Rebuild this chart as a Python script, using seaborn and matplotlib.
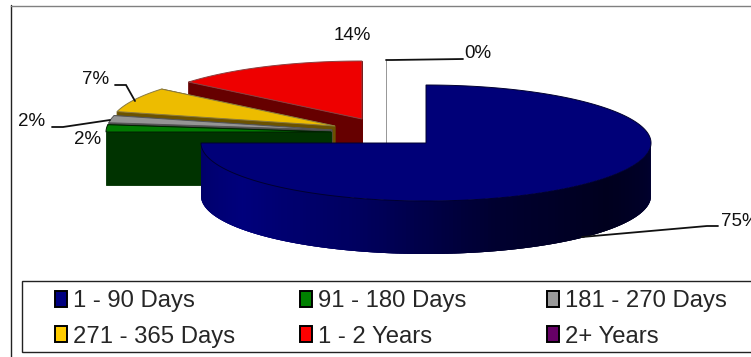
import numpy as np
import matplotlib
matplotlib.use("Agg")
import matplotlib.pyplot as plt
from matplotlib.patches import Polygon, Patch, Rectangle
import seaborn as sns

categories = ["1 - 90 Days", "91 - 180 Days", "181 - 270 Days",
              "271 - 365 Days", "1 - 2 Years", "2+ Years"]
shares = [75, 2, 2, 7, 14, 0]
share_labels = ["75%", "2%", "2%", "7%", "14%", "0%"]
legend_colors = ["#000080", "#008000", "#999999", "#FFCC00", "#FF0000", "#660066"]
top_colors = ["#000078", "#007A00", "#959595", "#EDBC00", "#EE0000", "#999999"]
side_colors = ["#000060", "#003300", "#4A4A4A", "#6B5200", "#660000", "#999999"]
edge_colors = ["#000030", "#002000", "#555555", "#8A7A40", "#8A4040", "#999999"]

sns.set_theme(style="white")
plt.rcParams["font.family"] = ["Liberation Sans", "DejaVu Sans"]

fig = plt.figure(figsize=(7.51, 3.57), dpi=100)
ax = fig.add_axes([0, 0, 1, 1])
ax.set_xlim(0, 751)
ax.set_ylim(357, 0)
ax.axis("off")

# Tilted pie geometry, in pixels
RX, RY, DEPTH = 225, 58, 53
centres = [(426, 143), (331, 132), (332, 130), (335, 126), (362, 119), (386, 118)]
paint_order = [5, 4, 3, 2, 1, 0]

stops = np.cumsum([0] + shares) * 3.6


def rim(c, deg):
    a = np.radians(deg)
    return c[0] + RX * np.sin(a), c[1] - RY * np.cos(a)


wall_ramp = sns.blend_palette(["#000066", "#00007C", "#000060", "#000030",
                               "#00001E", "#000030"], 181)[::-1]

for i in paint_order:
    c = centres[i]
    start, end = stops[i], stops[i + 1]

    # cut faces of the extruded slice
    for deg in (end, start):
        p = rim(c, deg)
        ax.add_patch(Polygon([c, p, (p[0], p[1] + DEPTH), (c[0], c[1] + DEPTH)],
                             closed=True, fc=side_colors[i], ec=side_colors[i], lw=0.6))

    # curved outer wall: each strip runs under the next one so no seams show
    lo, hi = max(start, 90), min(end, 270)
    for deg in np.arange(lo, hi, 1.0):
        arc = [rim(c, d) for d in np.linspace(deg, min(deg + 3, hi), 7)]
        low = [(x, y + DEPTH) for x, y in arc[::-1]]
        shade = wall_ramp[int(deg - 90)]
        ax.add_patch(Polygon(arc + low, closed=True, fc=shade, ec="none", lw=0))

    # top face
    arc = [rim(c, d) for d in np.linspace(start, end, max(2, int(end - start) * 2))]
    ax.add_patch(Polygon([c] + arc, closed=True, fc=top_colors[i],
                         ec=edge_colors[i], lw=0.7))

# Leader lines
leader_color = "#111111"
leaders = [
    ([582, 707, 718], [237, 226, 226]),
    ([115, 126, 135], [85, 85, 101]),
    ([52, 63, 110], [127, 127, 120]),
    ([386, 392, 463], [60, 60, 59]),
]
for xs, ys in leaders:
    ax.plot(xs, ys, color=leader_color, lw=1.3, solid_joinstyle="miter")

# Percentage labels
label_spots = [(721, 221, "left"), (88, 140, "center"), (32, 122, "center"),
               (96, 79, "center"), (352, 36, "center"), (478, 53, "center")]
for (x, y, ha), text in zip(label_spots, share_labels):
    ax.text(x, y, text, ha=ha, va="center", fontsize=13.5, color="#111111", clip_on=True)

# Outer frame
ax.plot([11, 11], [5, 357], color="#222222", lw=1.0)
ax.plot([11, 751], [5.5, 5.5], color="#808080", lw=1.0)

# Legend box and its three columns
ax.add_patch(Rectangle((22, 280.5), 740, 71.5, fc="white", ec="#222222", lw=1.0, clip_on=True))
palette = sns.color_palette(legend_colors)
handles = [Patch(facecolor=palette[i], edgecolor="black", linewidth=1.4, label=categories[i])
           for i in range(len(categories))]
columns = [(0, 3), (1, 4), (2, 5)]
column_x = [55, 300, 547]
for x, members in zip(column_x, columns):
    leg = ax.legend(handles=[handles[m] for m in members], loc="upper left",
                    bbox_to_anchor=(x, 290.5), bbox_transform=ax.transData,
                    frameon=False, prop={"size": 17.2}, handlelength=0.52,
                    handleheight=0.62, handletextpad=0.24, labelspacing=0.55,
                    borderpad=0.0, borderaxespad=0.0)
    ax.add_artist(leg)
    ax.legend_ = None

fig.savefig("out.png", dpi=100)
